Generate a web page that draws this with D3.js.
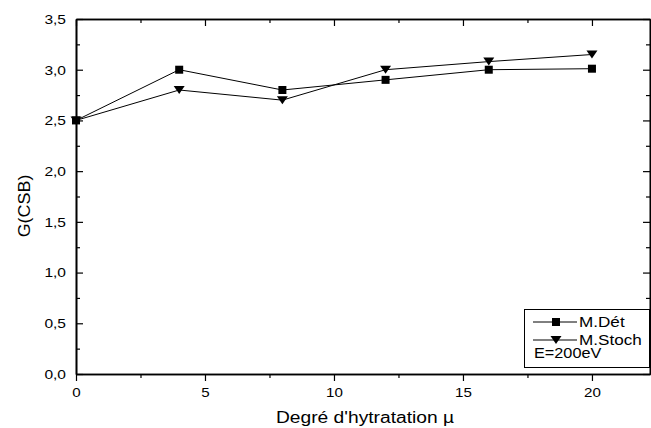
<!DOCTYPE html>
<html>
<head>
<meta charset="utf-8">
<script src="https://cdn.jsdelivr.net/npm/d3@7"></script>
<style>
  body { margin: 0; background: #fff; }
  svg { display: block; }
  text { font-family: "Liberation Sans", Arial, sans-serif; fill: #000; }
</style>
</head>
<body>
<div id="chart"></div>
<script>
// data
var hydration = [0, 4, 8, 12, 16, 20];
var mDet      = [2.5, 3.0, 2.8, 2.9, 3.0, 3.01];
var mStoch    = [2.5, 2.8, 2.7, 3.0, 3.08, 3.15];
var xTicks    = [0, 5, 10, 15, 20];
var xMinor    = [2.5, 7.5, 12.5, 17.5];
var yTicks    = [0, 0.5, 1.0, 1.5, 2.0, 2.5, 3.0, 3.5];
var yMinor    = [0.25, 0.75, 1.25, 1.75, 2.25, 2.75, 3.25];
var legendLabels = ["M.Dét", "M.Stoch"];
var legendNote = "E=200eV";

var W = 651, H = 428;
var pLeft = 76, pRight = 650, pTop = 19, pBottom = 374;

var svg = d3.select("#chart").append("svg")
    .attr("width", W).attr("height", H);

var x = d3.scaleLinear().domain([0, 22.25]).range([pLeft, pRight]);
var y = d3.scaleLinear().domain([0, 3.5]).range([pBottom, pTop]);

var fmt = function(d){ return d3.format(".1f")(d).replace(".", ","); };

// widen text a bit, the original glyphs are stretched horizontally
function stretch(sel, k) {
    sel.each(function(){
        var w = this.getComputedTextLength();
        d3.select(this).attr("textLength", w * k).attr("lengthAdjust", "spacingAndGlyphs");
    });
}

// bottom axis (ticks outward)
var gx = svg.append("g").attr("transform", "translate(0," + pBottom + ")")
    .call(d3.axisBottom(x).tickValues(xTicks).tickSize(7).tickPadding(6).tickFormat(d3.format("d")).tickSizeOuter(0));
svg.append("g").attr("transform", "translate(0," + pBottom + ")")
    .call(d3.axisBottom(x).tickValues(xMinor).tickSize(4).tickFormat("").tickSizeOuter(0));

// top axis (ticks inward)
svg.append("g").attr("transform", "translate(0," + pTop + ")")
    .call(d3.axisTop(x).tickValues(xTicks).tickSize(-7).tickFormat("").tickSizeOuter(0));
svg.append("g").attr("transform", "translate(0," + pTop + ")")
    .call(d3.axisTop(x).tickValues(xMinor).tickSize(-4).tickFormat("").tickSizeOuter(0));

// left axis (ticks inward)
var gy = svg.append("g").attr("transform", "translate(" + pLeft + ",0)")
    .call(d3.axisLeft(y).tickValues(yTicks).tickSize(-7).tickPadding(10).tickFormat(fmt).tickSizeOuter(0));
svg.append("g").attr("transform", "translate(" + pLeft + ",0)")
    .call(d3.axisLeft(y).tickValues(yMinor).tickSize(-4).tickFormat("").tickSizeOuter(0));

// right axis (ticks inward)
svg.append("g").attr("transform", "translate(" + pRight + ",0)")
    .call(d3.axisRight(y).tickValues(yTicks).tickSize(-7).tickFormat("").tickSizeOuter(0));
svg.append("g").attr("transform", "translate(" + pRight + ",0)")
    .call(d3.axisRight(y).tickValues(yMinor).tickSize(-4).tickFormat("").tickSizeOuter(0));

svg.selectAll(".domain").attr("stroke", "#000").attr("stroke-width", 1.6);
svg.selectAll(".tick line").attr("stroke", "#000").attr("stroke-width", 1.2);
svg.selectAll(".tick text").attr("font-size", 13.5)
    .style("font-family", "'Liberation Sans', Arial, sans-serif").attr("fill", "#000");
stretch(gx.selectAll(".tick text"), 1.12);
stretch(gy.selectAll(".tick text"), 1.15);

// axis titles
var xt = svg.append("text").attr("x", 365).attr("y", 423)
    .attr("text-anchor", "middle").attr("font-size", 16)
    .text("Degré d'hytratation µ");
stretch(xt, 1.2);

var yt = svg.append("text")
    .attr("transform", "translate(30,206) rotate(-90)")
    .attr("text-anchor", "middle").attr("font-size", 16)
    .text("G(CSB)");
stretch(yt, 1.12);

// series
var series = [
    { name: legendLabels[0], vals: mDet, sym: "sq" },
    { name: legendLabels[1], vals: mStoch, sym: "tri" }
];

function marker(g, kind, cx, cy) {
    if (kind === "tri") {
        g.append("path")
            .attr("d", "M" + (cx - 5.5) + "," + (cy - 4) + "L" + (cx + 5.5) + "," + (cy - 4) + "L" + cx + "," + (cy + 4) + "Z")
            .attr("fill", "#000");
    } else {
        g.append("rect").attr("x", cx - 4).attr("y", cy - 4)
            .attr("width", 8).attr("height", 8).attr("fill", "#000");
    }
}

var line = d3.line().x(function(d){ return x(d[0]); }).y(function(d){ return y(d[1]); });

series.forEach(function(s){
    var pts = hydration.map(function(h, i){ return [h, s.vals[i]]; });
    svg.append("path").datum(pts).attr("d", line)
        .attr("fill", "none").attr("stroke", "#000").attr("stroke-width", 1);
    var g = svg.append("g");
    pts.forEach(function(p){ marker(g, s.sym, x(p[0]), y(p[1])); });
});

// legend
var lg = svg.append("g");
lg.append("rect").attr("x", 524.5).attr("y", 309.5).attr("width", 125).attr("height", 58)
    .attr("fill", "#fff").attr("stroke", "#000").attr("stroke-width", 1);
series.forEach(function(s, i){
    var ly = 322 + i * 18;
    lg.append("line").attr("x1", 533).attr("x2", 577).attr("y1", ly).attr("y2", ly)
        .attr("stroke", "#000").attr("stroke-width", 1);
    marker(lg, s.sym, 556, ly);
    var t = lg.append("text").attr("x", 579).attr("y", ly + 4.5).attr("font-size", 14.5).text(s.name);
    stretch(t, 1.18);
});
var note = lg.append("text").attr("x", 534).attr("y", 358).attr("font-size", 14.5).text(legendNote);
stretch(note, 1.12);
</script>
</body>
</html>
